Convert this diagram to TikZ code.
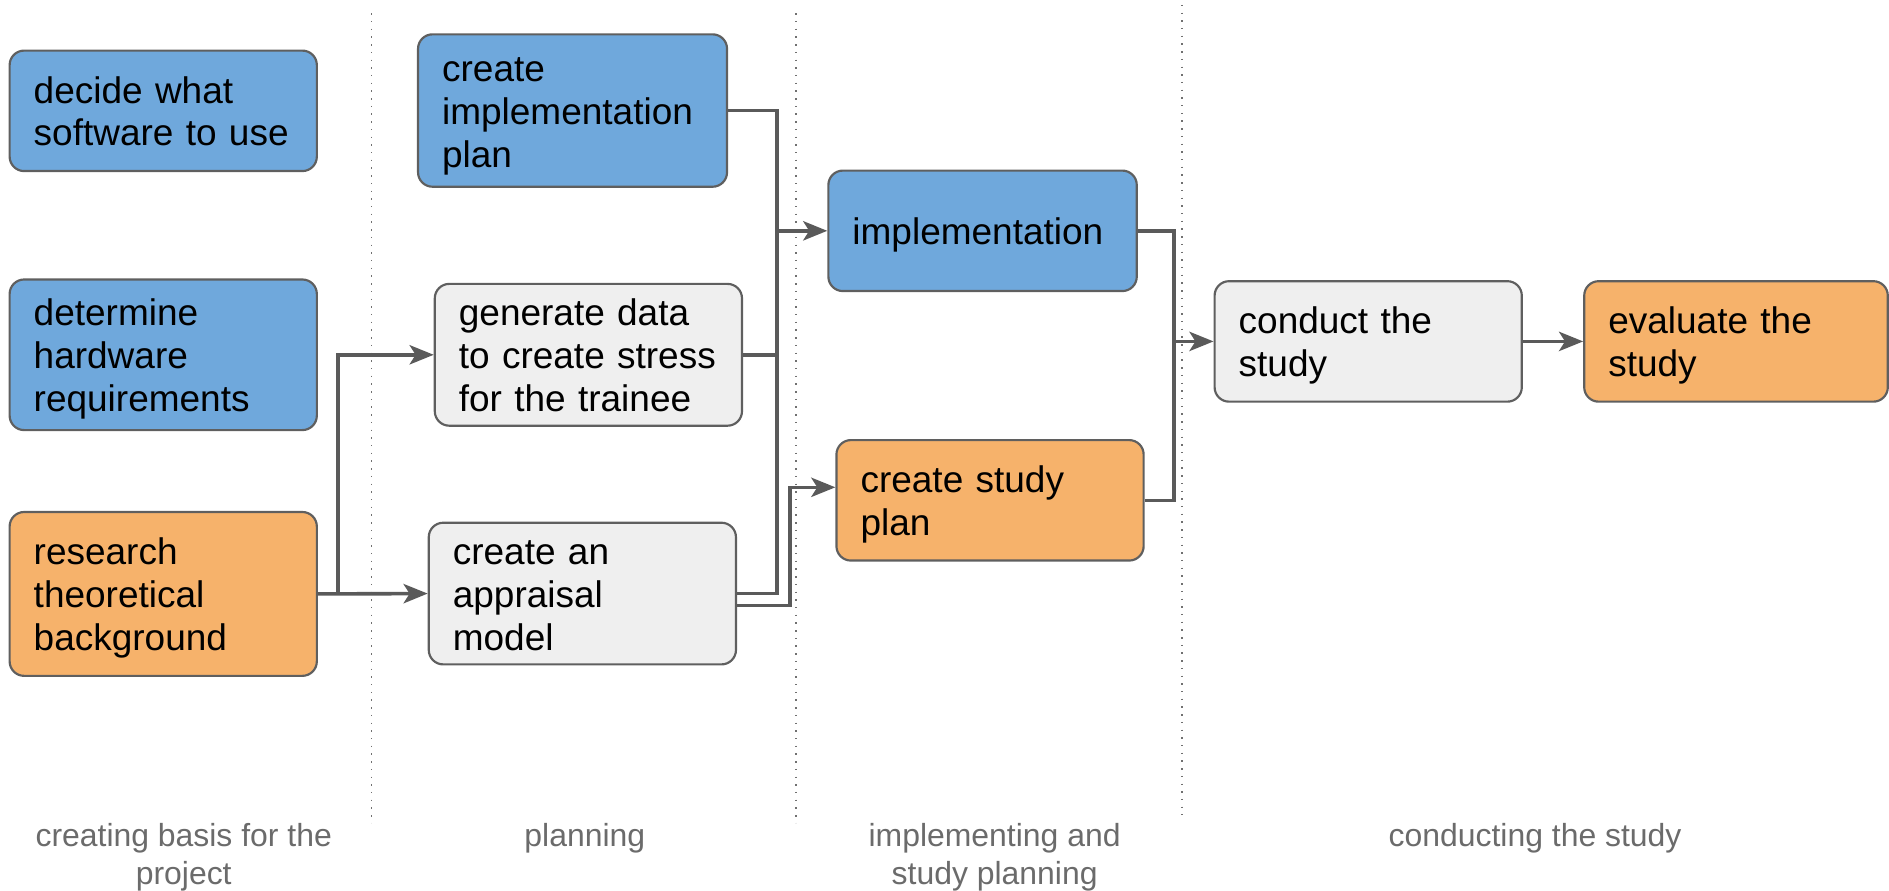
\documentclass[tikz,border=0pt]{standalone}
\usepackage{fontspec}
\setmainfont{Liberation Sans}
\usetikzlibrary{arrows.meta}
\definecolor{cblue}{HTML}{6FA8DC}
\definecolor{corange}{HTML}{F6B26B}
\definecolor{cgray}{HTML}{EFEFEF}
\definecolor{cline}{HTML}{5A5A5A}
\definecolor{cborder}{HTML}{5F5F5F}
\definecolor{clabel}{HTML}{6B6B6B}
\definecolor{cdot}{HTML}{707070}
\tikzset{
  box/.style={draw=cborder, line width=0.9pt, rounded corners=6pt,
    minimum width=127.5pt, text width=107.5pt, inner xsep=10pt, inner ysep=0pt,
    align=left, font=\fontsize{15.35pt}{17.75pt}\selectfont, text=black,
    text height=14.3pt},
  oneline/.style={text depth=2.9pt},
  twolines/.style={text depth=20.65pt},
  threelines/.style={text depth=38.4pt},
  bluebox/.style={box, fill=cblue},
  orangebox/.style={box, fill=corange},
  graybox/.style={box, fill=cgray},
  conn/.style={draw=cline, line width=1.5pt},
  arr/.style={conn, -{Stealth[length=10pt, width=8pt, inset=2.5pt]}},
  sep/.style={draw=cdot, line width=0.6pt, dash pattern=on 0.6pt off 2.6pt},
  lbl/.style={text=clabel, align=center, font=\fontsize{13.25pt}{15.75pt}\selectfont,
    text depth=2.5pt},
  lblone/.style={lbl, text height=12.3pt},
  lbltwo/.style={lbl, text height=28.05pt}
}
\begin{document}
\begin{tikzpicture}[x=0.5pt, y=-0.5pt]
\useasboundingbox (0,0) rectangle (1568,738.8);
% separators
\draw[sep] (308.3,11) coordinate (s1a) -- (308.3,683) coordinate (s1b);
\draw[sep] (660.6,11) coordinate (s2a) -- (660.6,683) coordinate (s2b);
\draw[sep] (981.2,4) coordinate (s3a) -- (981.2,676.5) coordinate (s3b);
% nodes
\node[bluebox, twolines, minimum height=50pt] (soft) at (135.5,92) {decide what\\software to use};
\node[bluebox, threelines, minimum height=62.5pt] (hw) at (135.5,294.5) {determine\\hardware\\requirements};
\node[orangebox, threelines, minimum height=68pt] (res) at (135.5,493) {research\\theoretical\\background};
\node[bluebox, threelines, minimum height=63.25pt, minimum width=128.25pt, text width=108.25pt] (iplan) at (475.25,91.75) {create\\implementation\\plan};
\node[graybox, threelines, minimum height=58.85pt] (gen) at (488.4,294.5) {generate data\\to create stress\\for the trainee};
\node[graybox, threelines, minimum height=58.8pt] (appr) at (483.4,492.7) {create an\\appraisal\\model};
\node[bluebox, oneline, minimum height=50pt, minimum width=128pt, text width=108pt] (impl) at (815.6,191.6) {implementation};
\node[orangebox, twolines, minimum height=50pt] (splan) at (821.8,415.3) {create study\\plan};
\node[graybox, twolines, minimum height=50pt] (cond) at (1135.7,283.4) {conduct the\\study};
\node[orangebox, twolines, minimum height=50pt, minimum width=126pt, text width=106pt] (eval) at (1441,283.4) {evaluate the\\study};
% connectors
\coordinate (b1) at (280.4,493);
\draw[arr] (res.east) -- (appr.west);
\draw[arr] (b1) |- (gen.west);
\coordinate (v1) at (645,0);
\draw[conn] (iplan.east) -- (iplan.east -| v1) -- (v1 |- appr.east) -- (appr.east);
\draw[conn] (gen.east) -- (gen.east -| v1);
\draw[arr] (v1 |- impl.west) -- (impl.west);
\coordinate (v2) at (655.5,450);
\draw[arr] ([yshift=-5pt]appr.east) -| (v2) |- ([yshift=5.4pt]splan.west);
\coordinate (v3) at (974.5,0);
\draw[conn] (impl.east) -- (impl.east -| v3) -- (v3 |- splan.east) -- (splan.east);
\draw[arr] (v3 |- cond.west) -- (cond.west);
\draw[arr] (cond.east) -- (eval.west);
% phase labels
\node[lbltwo] (l1) at (152.5,709) {creating basis for the\\project};
\node[lblone] (l2) at (485.4,693) {planning};
\node[lbltwo] (l3) at (825.6,709) {implementing and\\study planning};
\node[lblone] (l4) at (1274.2,693) {conducting the study};
\end{tikzpicture}
\end{document}
